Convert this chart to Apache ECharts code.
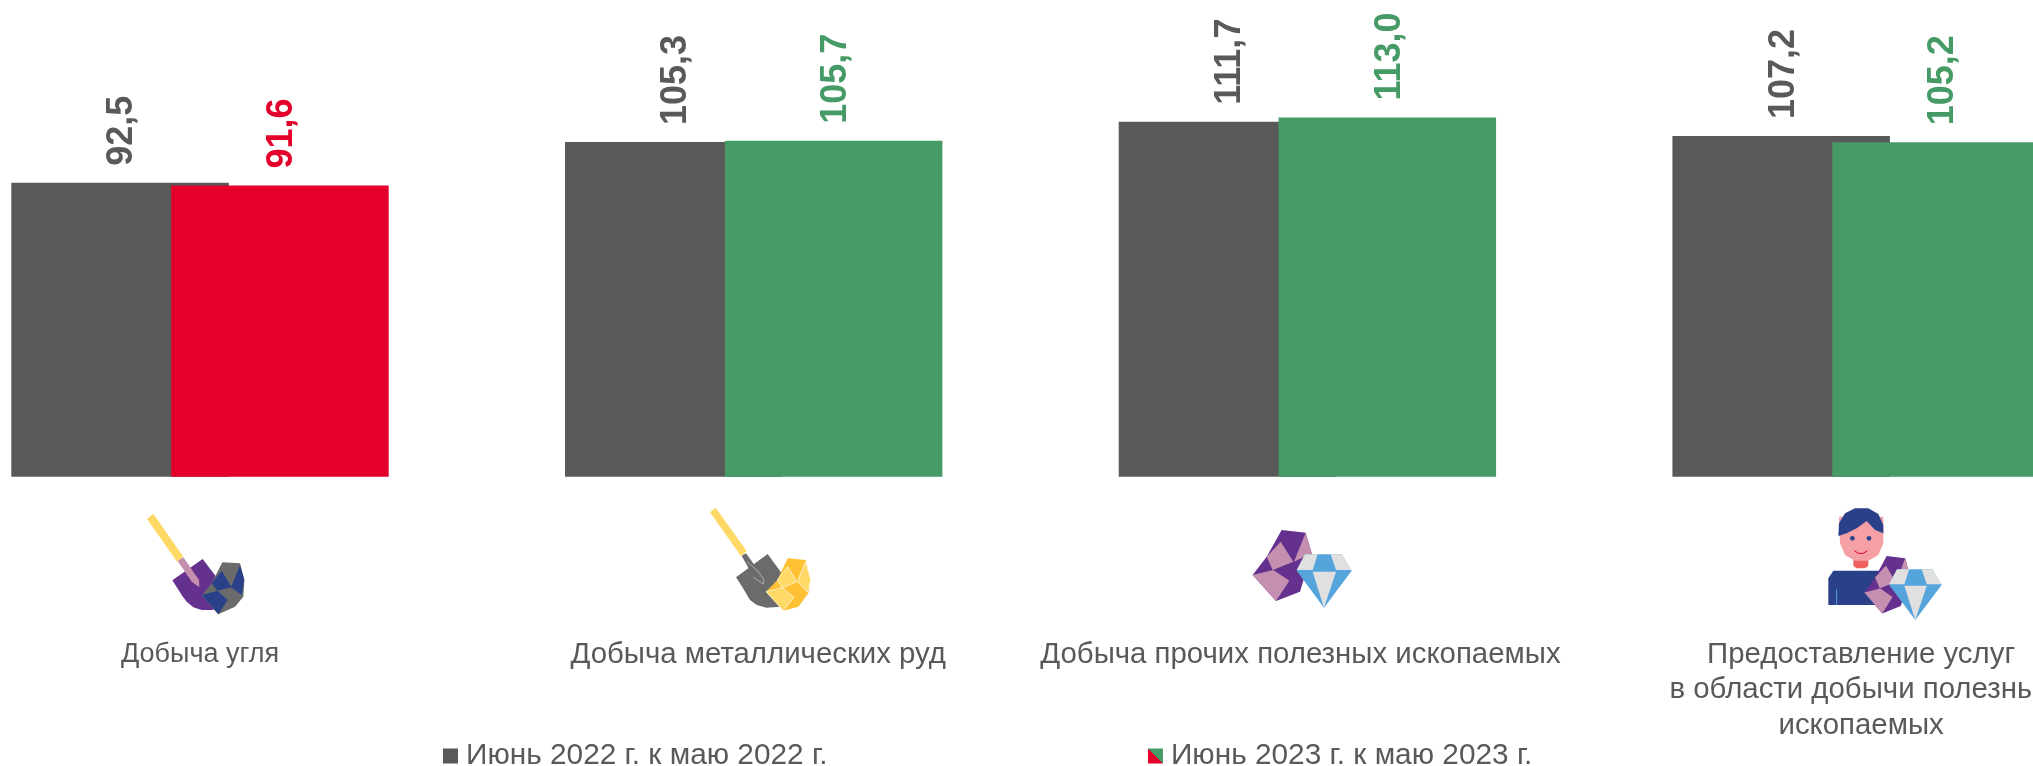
<!DOCTYPE html>
<html><head><meta charset="utf-8">
<style>html,body{margin:0;padding:0;background:#fff;overflow:hidden}#c{width:2033px;height:766px}</style>
<script src="https://cdn.jsdelivr.net/npm/echarts@6/dist/echarts.min.js"></script>
</head><body><div id="c"></div>
<script>
const categories = ['Добыча угля','Добыча металлических руд','Добыча прочих полезных ископаемых','Предоставление услуг\nв области добычи полезных\nископаемых'];
const seriesNames = ['Июнь 2022 г. к маю 2022 г.','Июнь 2023 г. к маю 2023 г.'];
const values2022 = [92.5,105.3,111.7,107.2];
const values2023 = [91.6,105.7,113.0,105.2];

const GRAY='#595959', RED='#E4002B', GREEN='#459A66';
const FONT='"Liberation Sans", Arial, sans-serif';
const fmt = v => v.toFixed(1).replace('.',',');
const colorOf = v => v < 100 ? RED : GREEN;

const PURPLE='#65318E',PINK='#C58FB0',YEL='#FFD966',AMB='#FFC133',NAVY='#2A4189',SKY='#55A5DC',LG='#E0E0E0',DG='#6B6B6B';
const poly=(pts,fill)=>({type:'polygon',silent:true,shape:{points:pts},style:{fill}});
function edged(pts,fill){const p=poly(pts,fill);p.style.stroke='#fff';p.style.lineWidth=2;return p;}
const rock=()=>[
  poly([[125,30],[197,38],[215,100],[180,215],[108,243],[38,165],[80,110]],PURPLE),
  poly([[122,65],[160,125],[98,150],[80,110]],PINK),
  poly([[197,38],[215,100],[162,125]],PINK),
  poly([[38,165],[100,150],[148,182],[108,243]],PINK)];
const diamond=()=>[
  poly([[195,103],[305,103],[335,152],[252,263],[170,152]],SKY),
  poly([[195,103],[233,103],[218,150],[170,150]],LG),
  poly([[272,103],[305,103],[335,150],[288,150]],LG),
  poly([[218,155],[288,155],[252,263]],LG)];
const group=(x,y,children)=>({type:'group',x,y,scaleX:1/3,scaleY:1/3,silent:true,children});
const sub=(x,y,sx,sy,children)=>({type:'group',x,y,scaleX:sx,scaleY:sy,children});

const icons=[
 group(130,500,[
  poly([[51,57],[70,41],[160,170],[141,185]],YEL),
  poly([[127,241],[218,177],[262,235],[250,330],[215,330],[190,322],[170,305],[155,285]],PURPLE),
  poly([[143,183],[160,172],[207,240],[208,262],[185,245]],PINK),
  poly([[277,187],[330,190],[343,240],[340,290],[315,320],[265,343],[215,288],[245,250]],DG),
  poly([[275,212],[305,262],[262,272],[245,250]],NAVY),
  poly([[330,195],[343,240],[335,285],[303,262]],NAVY),
  poly([[215,285],[262,272],[293,300],[265,343]],NAVY)]),
 group(700,500,[
  poly([[30,37],[47,23],[140,153],[123,169]],YEL),
  poly([[108,232],[203,162],[245,220],[240,320],[200,323],[170,315],[150,300],[125,258]],DG),
  poly([[125,167],[138,160],[178,215],[193,238],[190,252],[160,230]],DG),
  {type:'polyline',shape:{points:[[142,185],[175,215],[192,240],[190,252],[160,232]]},style:{stroke:'#cfcfcf',lineWidth:2,fill:null}},
  poly([[263,175],[317,180],[332,240],[325,280],[295,320],[250,332],[198,275],[232,240]],AMB),
  edged([[263,200],[290,245],[247,263],[232,240]],YEL),
  edged([[317,185],[332,240],[322,275],[292,245]],YEL),
  edged([[198,275],[247,263],[282,292],[250,332]],YEL)]),
 group(1240,520,[...rock(),...diamond()]),
 group(1815,500,[
  poly([[40,235],[55,212],[205,212],[205,315],[40,315]],NAVY),
  {type:'line',shape:{x1:65,y1:268,x2:65,y2:315},style:{stroke:SKY,lineWidth:3}},
  poly([[115,178],[160,178],[160,198],[150,205],[125,205],[115,198]],'#F0625F'),
  poly([[72,50],[205,50],[205,130],[190,165],[160,182],[120,182],[90,165],[75,130]],'#F4A0A4'),
  poly([[70,108],[72,70],[90,40],[120,25],[160,25],[190,42],[205,75],[205,100],[180,90],[155,63],[125,85],[95,100]],NAVY),
  {type:'circle',shape:{cx:112,cy:115,r:7},style:{fill:NAVY}},
  {type:'circle',shape:{cx:162,cy:115,r:7},style:{fill:NAVY}},
  {type:'polyline',shape:{points:[[118,152],[130,160],[145,160],[157,152]]},style:{stroke:RED,lineWidth:3,fill:null}},
  sub(148-38*.77,168-30*.81,.77,.81,rock()),
  sub(222-170*.96,208-103*.95,.96,.95,diamond())])
];

const chart=echarts.init(document.getElementById('c'),null,{renderer:'canvas'});
const labelBase={show:true,position:'top',distance:17,rotate:90,align:'left',verticalAlign:'middle',offset:[0,2.5],
  fontFamily:FONT,fontWeight:'bold',fontSize:36,formatter:p=>fmt(p.value)};
const labelStyles=[{fontSize:27},{padding:[0,0,0,9]},{padding:[0,14,0,0]},{}];
chart.setOption({
  animation:false,
  backgroundColor:'#fff',
  grid:{left:-76.85,width:2214.8,top:0,height:476.7,containLabel:false,outerBoundsMode:'none'},
  xAxis:{type:'category',axisLine:{show:false},axisTick:{show:false},
    data:categories.map((c,i)=>({value:c,textStyle:labelStyles[i]})),
    axisLabel:{show:true,interval:0,margin:160,color:GRAY,fontFamily:FONT,fontSize:29.4,lineHeight:35.5,hideOverlap:false}},
  yAxis:{type:'value',min:0,max:150,show:false,splitLine:{show:false}},
  legend:{left:443,top:741,padding:0,itemWidth:15,itemHeight:15,itemGap:320.5,icon:'rect',selectedMode:false,
    textStyle:{color:GRAY,fontFamily:FONT,fontSize:29.8,padding:[0,0,0,3]},
    data:[
      {name:seriesNames[0],itemStyle:{color:GRAY}},
      {name:seriesNames[1],itemStyle:{color:{type:'linear',x:0,y:1,x2:1,y2:0,colorStops:[{offset:0,color:RED},{offset:.5,color:RED},{offset:.5,color:GREEN},{offset:1,color:GREEN}]}}}
    ]},
  series:[
    {name:seriesNames[0],type:'bar',barWidth:217.5,barGap:'-26.5%',data:values2022,itemStyle:{color:GRAY},
      label:Object.assign({},labelBase,{color:GRAY}),z:2},
    {name:seriesNames[1],type:'bar',barWidth:217.5,data:values2023.map(v=>({value:v,itemStyle:{color:colorOf(v)},label:{color:colorOf(v)}})),
      label:labelBase,z:3}
  ],
  graphic:icons
});
</script></body></html>
